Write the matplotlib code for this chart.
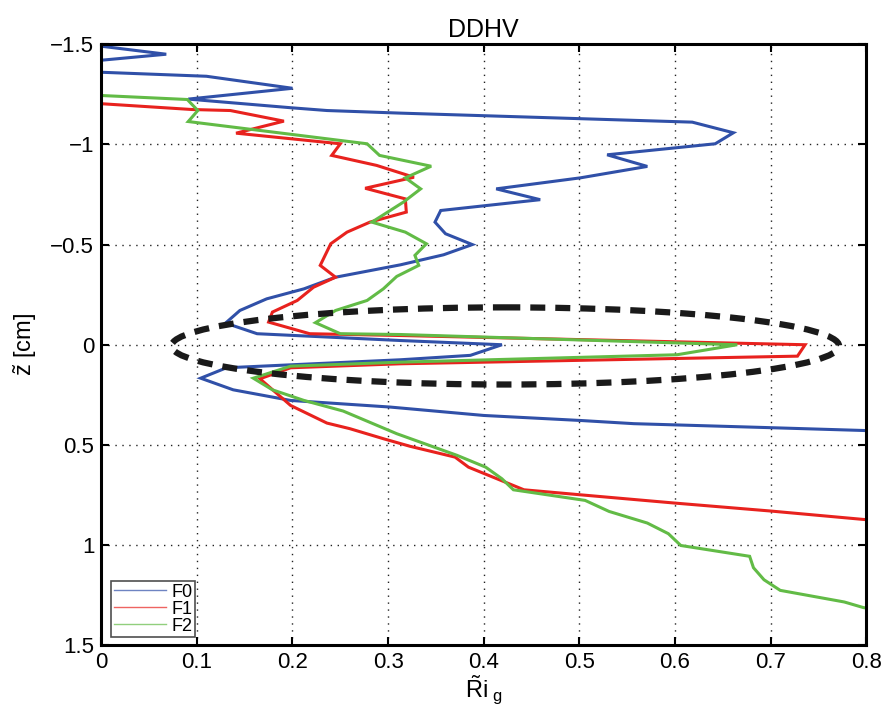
import matplotlib
matplotlib.use("Agg")
import matplotlib.pyplot as plt
from matplotlib.patches import Ellipse

plt.rcParams['font.family'] = ['Liberation Sans', 'DejaVu Sans']
plt.rcParams['mathtext.fontset'] = 'custom'
plt.rcParams['mathtext.rm'] = 'Liberation Sans'
plt.rcParams['mathtext.it'] = 'Liberation Sans'

# Gradient Richardson number profiles (x) versus depth z (cm)
f0_ri = [0.0, 0.068, 0.0, 0.0, 0.110, 0.200, 0.091, 0.198, 0.236, 0.313, 0.618, 0.661,
         0.642, 0.529, 0.571, 0.501, 0.413, 0.459, 0.355, 0.349, 0.360, 0.388, 0.358,
         0.313, 0.245, 0.212, 0.173, 0.145, 0.130, 0.163, 0.313, 0.419, 0.386, 0.313,
         0.131, 0.104, 0.138, 0.198, 0.302, 0.400, 0.501, 0.557, 0.700, 0.797, 0.85]
f0_z = [-1.49, -1.45, -1.42, -1.36, -1.34, -1.28, -1.226, -1.183, -1.169, -1.156, -1.111,
        -1.058, -1.003, -0.948, -0.890, -0.833, -0.778, -0.724, -0.670, -0.612, -0.554,
        -0.500, -0.449, -0.399, -0.337, -0.279, -0.229, -0.171, -0.108, -0.055, -0.021,
        0.0, 0.053, 0.075, 0.115, 0.167, 0.225, 0.278, 0.311, 0.353, 0.378, 0.394, 0.414,
        0.428, 0.44]

f1_ri = [0.0, 0.095, 0.135, 0.191, 0.141, 0.250, 0.241, 0.288, 0.327, 0.276, 0.318, 0.319,
         0.281, 0.257, 0.240, 0.229, 0.245, 0.222, 0.205, 0.179, 0.175, 0.218, 0.313,
         0.736, 0.728, 0.313, 0.198, 0.166, 0.198, 0.236, 0.260, 0.295, 0.323, 0.370,
         0.384, 0.442, 0.501, 0.599, 0.700, 0.797, 0.85]
f1_z = [-1.203, -1.174, -1.169, -1.116, -1.056, -1.003, -0.945, -0.895, -0.836, -0.781,
        -0.728, -0.662, -0.612, -0.562, -0.504, -0.396, -0.337, -0.287, -0.221, -0.163,
        -0.113, -0.055, -0.046, 0.0, 0.057, 0.095, 0.115, 0.170, 0.303, 0.391, 0.419,
        0.469, 0.507, 0.561, 0.611, 0.724, 0.749, 0.790, 0.830, 0.872, 0.89]

f2_ri = [0.0, 0.090, 0.101, 0.091, 0.278, 0.291, 0.345, 0.318, 0.334, 0.316, 0.283, 0.318,
         0.340, 0.328, 0.332, 0.309, 0.295, 0.278, 0.245, 0.224, 0.250, 0.313, 0.665,
         0.602, 0.313, 0.198, 0.159, 0.179, 0.212, 0.253, 0.309, 0.372, 0.402, 0.419,
         0.431, 0.506, 0.531, 0.571, 0.593, 0.606, 0.678, 0.682, 0.693, 0.710, 0.777,
         0.797, 0.85]
f2_z = [-1.244, -1.224, -1.169, -1.114, -1.003, -0.945, -0.891, -0.833, -0.778, -0.712,
        -0.612, -0.562, -0.504, -0.446, -0.396, -0.341, -0.279, -0.221, -0.171, -0.110,
        -0.055, -0.051, 0.0, 0.050, 0.087, 0.107, 0.167, 0.225, 0.278, 0.331, 0.444,
        0.552, 0.611, 0.669, 0.724, 0.777, 0.832, 0.890, 0.943, 1.002, 1.056, 1.113,
        1.173, 1.226, 1.284, 1.312, 1.35]

labels = ['F0', 'F1', 'F2']
colors = ['#3050a8', '#e8221e', '#62bb46']
x_ticks = [0, 0.1, 0.2, 0.3, 0.4, 0.5, 0.6, 0.7, 0.8]
y_ticks = [-1.5, -1, -0.5, 0, 0.5, 1, 1.5]
x_tick_labels = ['0', '0.1', '0.2', '0.3', '0.4', '0.5', '0.6', '0.7', '0.8']
y_tick_labels = ['\u22121.5', '\u22121', '\u22120.5', '0', '0.5', '1', '1.5']

fig = plt.figure(figsize=(8.84, 7.13), dpi=100)
ax = fig.add_axes([0.1145, 0.095, 0.8655, 0.843])

for ri, z, c, lab in zip([f0_ri, f1_ri, f2_ri], [f0_z, f1_z, f2_z], colors, labels):
    ax.plot(ri, z, color=c, lw=2.2, label=lab, solid_joinstyle='miter')

# highlighted interface region
ax.add_patch(Ellipse((0.4225, 0.006), 0.698, 0.385, fill=False, ec='#1a1a1a',
                     lw=4.5, ls=(0, (2.4, 1.6)), zorder=5))

ax.set_xlim(0, 0.8)
ax.set_ylim(1.5, -1.5)
ax.set_xticks(x_ticks)
ax.set_xticklabels(x_tick_labels)
ax.set_yticks(y_ticks)
ax.set_yticklabels(y_tick_labels)
ax.grid(True, ls=(0, (1, 4)), color='#222222', lw=1.0)
ax.tick_params(direction='in', top=True, right=True, length=6, width=1.5,
               labelsize=16, pad=5)
for s in ax.spines.values():
    s.set_linewidth(2.2)

ax.set_title('DDHV', fontsize=18, pad=5)
ax.set_xlabel(r'$\mathrm{\tilde{R}i_{\ g}}$', fontsize=17, labelpad=0)
ax.set_ylabel(r'$\mathrm{\tilde{z}}$ [cm]', fontsize=17, labelpad=8)

leg = ax.legend(loc='lower left', fontsize=13, frameon=True, fancybox=False,
                edgecolor='#222222', handlelength=2.9, borderpad=0.15,
                labelspacing=0.0, handletextpad=0.3, borderaxespad=0.0,
                bbox_to_anchor=(0.013, 0.013))
leg.get_frame().set_linewidth(1.2)
for line in leg.get_lines():
    line.set_linewidth(1.0)
    line.set_alpha(0.7)

fig.savefig('out.png', dpi=100)
